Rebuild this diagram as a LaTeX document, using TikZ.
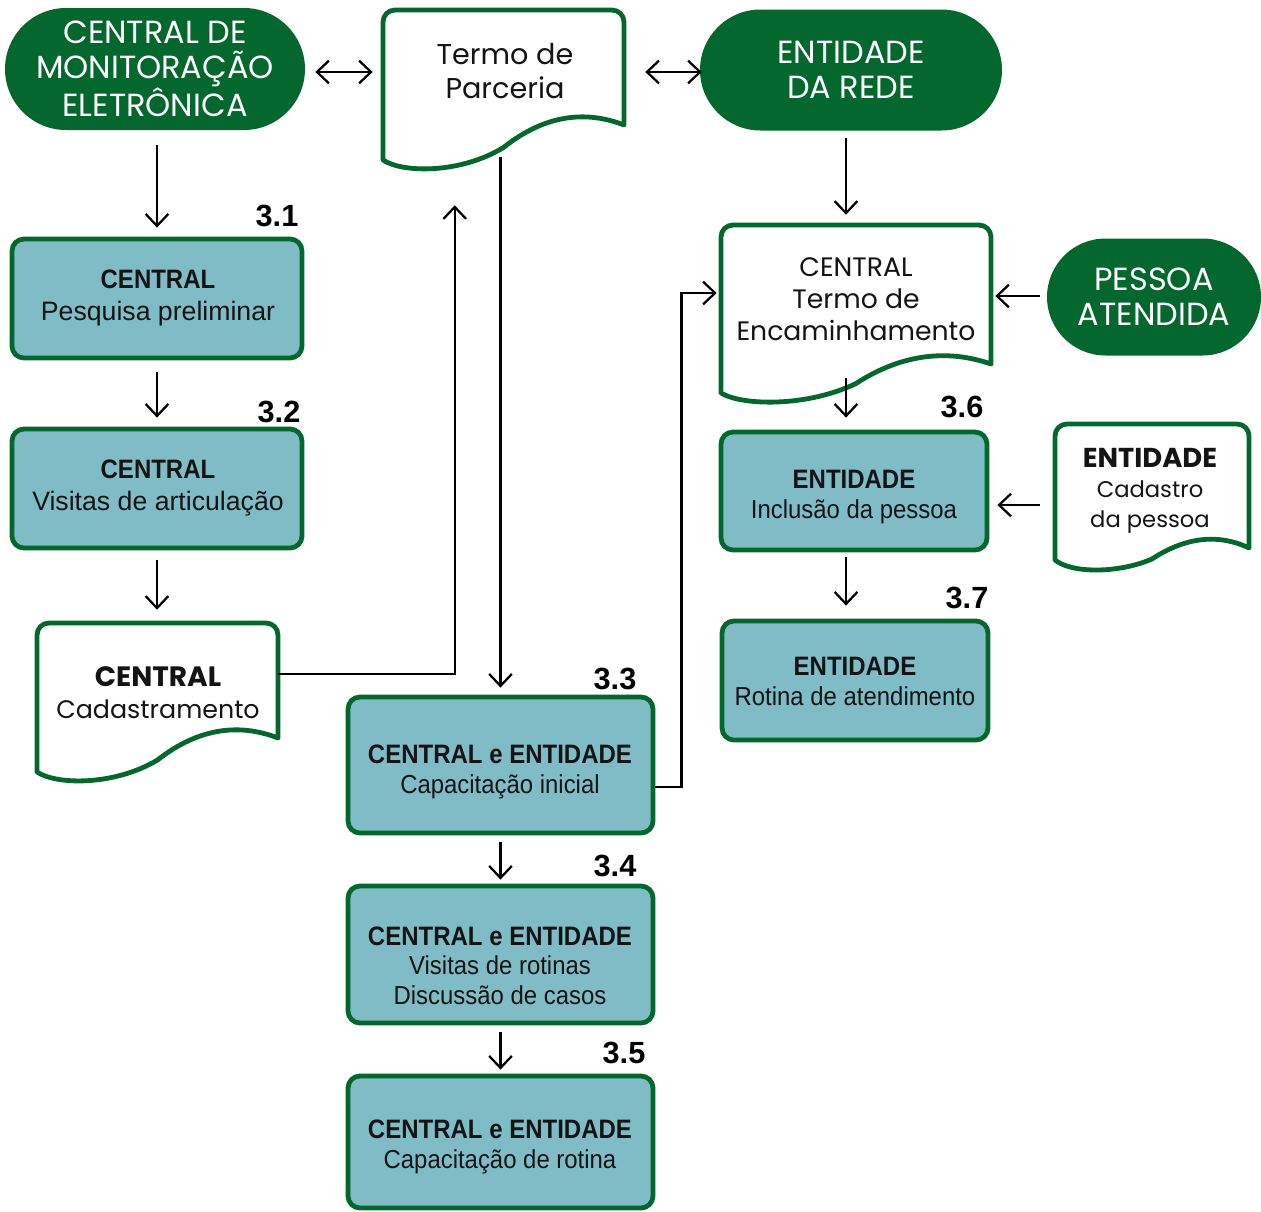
\documentclass[tikz,border=0pt]{standalone}
\usepackage{fontspec}
\setmainfont{Liberation Sans}
\newfontfamily\popfont{Poppins}
\newfontfamily\narrowfont[FakeStretch=0.92]{Liberation Sans}
\newfontfamily\boldnarrow[FakeStretch=0.9]{Liberation Sans}
\usetikzlibrary{arrows.meta,calc,shapes.misc}
\definecolor{dkgreen}{RGB}{4,104,46}
\definecolor{tealfill}{RGB}{128,188,198}
\definecolor{txt}{RGB}{20,20,20}
\newcommand\bt[1]{{\boldnarrow\bfseries\fontsize{20}{20}\selectfont #1}}
\newcommand\pbt[2]{{\fontsize{#1}{#1}\selectfont\bfseries #2}}
\tikzset{
  wh/.style 2 args={minimum width=#1*0.75pt, minimum height=#2*0.75pt},
  term/.style={rounded rectangle, fill=dkgreen, text=white, align=center, inner sep=0pt,
    font=\popfont\fontsize{24}{26}\selectfont},
  stepbox/.style={rectangle, rounded corners=9pt, draw=dkgreen, line width=3.6pt, fill=tealfill, inner sep=0pt},
  boxtext/.style={align=center, inner sep=0pt, text=txt, font=\narrowfont\fontsize{19.5}{22.5}\selectfont},
  bigtext/.style={boxtext, font=\fontsize{20}{24}\selectfont},
  docbound/.style={rectangle, inner sep=0pt},
  doctext/.style={align=center, inner sep=0pt, text=txt},
  docline/.style={draw=dkgreen, line width=3.6pt, fill=white, line join=round},
  num/.style={inner sep=0pt, font=\bfseries\fontsize{23}{23}\selectfont},
  arr/.style={line width=1.7pt, -{Straight Barb[length=9pt,width=17pt]}},
  darr/.style={line width=1.7pt, {Straight Barb[length=9pt,width=17pt]}-{Straight Barb[length=9pt,width=17pt]}},
}
\newcommand\docshape[5]{%
  \pgfmathsetmacro\dw{#3-#1}%
  \pgfmathsetmacro\mx{#1+0.5*\dw}%
  \pgfmathsetmacro\my{#5+0.5*(#4-#5)}%
  \path[docline] (#1,#4-10) -- (#1,#2+12) arc[start angle=180,end angle=90,radius=9pt]
    -- (#3-12,#2) arc[start angle=90,end angle=0,radius=9pt] -- (#3,#5)
    .. controls (#3-0.15*\dw,#5-14) and (#3-0.32*\dw,#5-12) .. (\mx,\my)
    .. controls (#1+0.32*\dw,#4+4) and (#1+0.08*\dw,#4+3) .. (#1,#4-10) -- cycle;
}
\begin{document}
\begin{tikzpicture}[x=0.75pt,y=-0.75pt]
\useasboundingbox (0,0) rectangle (1261,1211);

% terminals
\node[term, wh={300}{122}] (mon) at (155,69) {CENTRAL DE\\MONITORAÇÃO\\ELETRÔNICA};
\node[term, wh={302}{121}] (ent) at (851,70) {ENTIDADE\\DA REDE};
\node[term, wh={214}{117}] (pes) at (1154,297) {PESSOA\\ATENDIDA};

% documents
\docshape{383}{10}{624}{170}{125}
\node[docbound, wh={241}{160}] (tp) at (503.5,90) {};
\node[doctext, font=\popfont\fontsize{21.5}{26}\selectfont] (tpt) at (505,71) {Termo de\\Parceria};

\docshape{37}{623}{278}{782}{738}
\node[docbound, wh={241}{159}] (cad) at (157.5,702.5) {};
\node[doctext, font=\popfont\fontsize{19}{24}\selectfont] (cadt) at (158,693) {\pbt{21}{CENTRAL}\\Cadastramento};

\docshape{721}{225}{991}{403}{364}
\node[docbound, wh={270}{178}] (ten) at (856,314) {};
\node[doctext, font=\popfont\fontsize{20}{24}\selectfont] (tent) at (856,299) {CENTRAL\\Termo de\\Encaminhamento};

\docshape{1055}{424}{1249}{570}{548}
\node[docbound, wh={194}{146}] (cdp) at (1152,497) {};
\node[doctext, font=\popfont\fontsize{17}{22.5}\selectfont] (cdpt) at (1150,491) {\pbt{20.5}{ENTIDADE}\\Cadastro\\da pessoa};

% step boxes
\node[stepbox, wh={290}{119}] (b31) at (157,298.5) {};
\node[bigtext] (b31t) at (158,298) {\bt{CENTRAL}\\Pesquisa preliminar};
\node[stepbox, wh={290}{119}] (b32) at (157,488.5) {};
\node[bigtext] (b32t) at (158,488) {\bt{CENTRAL}\\Visitas de articulação};
\node[stepbox, wh={305}{136}] (b33) at (500.5,765) {};
\node[boxtext] (b33t) at (500,772) {\bt{CENTRAL e ENTIDADE}\\Capacitação inicial};
\node[stepbox, wh={305}{137}] (b34) at (500.5,954.5) {};
\node[boxtext, font=\narrowfont\fontsize{19.5}{22}\selectfont] (b34t) at (500,965.5) {\bt{CENTRAL e ENTIDADE}\\Visitas de rotinas\\Discussão de casos};
\node[stepbox, wh={305}{132}] (b35) at (500.5,1142) {};
\node[boxtext] (b35t) at (500,1147) {\bt{CENTRAL e ENTIDADE}\\Capacitação de rotina};
\node[stepbox, wh={266}{118}] (b36) at (854,491) {};
\node[boxtext] (b36t) at (854,497) {\bt{ENTIDADE}\\Inclusão da pessoa};
\node[stepbox, wh={266}{119}] (b37) at (855,680.5) {};
\node[boxtext] (b37t) at (855,681.5) {\bt{ENTIDADE}\\Rotina de atendimento};

% numbers
\node[num] (n31) at (277,216) {3.1};
\node[num] (n32) at (279,412) {3.2};
\node[num] (n33) at (615,679) {3.3};
\node[num] (n34) at (615,866) {3.4};
\node[num] (n35) at (624,1053) {3.5};
\node[num] (n36) at (962,407) {3.6};
\node[num] (n37) at (967,598) {3.7};

% connectors
\draw[darr] ($(mon.east)+(10,3)$) -- ($(mon.east -| tp.west)+(-10,3)$);
\draw[darr] ($(ent.west -| tp.east)+(21,2)$) -- ($(ent.west)+(2,2)$);
\draw[arr] ($(mon.south)+(2,15)$) -- ($(b31.north)+(0,-9)$);
\draw[arr] ($(b31.south)+(0,12)$) -- ($(b32.north)+(0,-9)$);
\draw[arr] ($(b32.south)+(0,10)$) -- ($(b32.south |- cad.north)+(0,-13)$);
\draw[arr] ($(cad.north east)+(0,51)$) -| ($(tp.south west)+(72,35)$);
\draw[arr] ($(b33.north |- tp.south)+(0,-13)$) -- ($(b33.north)+(0,-7)$);
\draw[arr] ($(b33.east)+(0,22)$) -- ++(26,0) |- ($(ten.west)+(-4,-21)$);
\draw[arr] ($(b33.south)+(0,7)$) -- ($(b34.north)+(0,-4)$);
\draw[arr] ($(b34.south)+(0,7)$) -- ($(b35.north)+(0,-4)$);
\draw[arr] ($(ent.south)+(-5,7)$) -- ($(ent.south |- ten.north)+(-5,-10)$);
\draw[arr] ($(pes.west)+(-7,-1)$) -- ($(ten.east |- pes.west)+(4,-1)$);
\draw[arr] ($(b36.north |- ten.south)+(-8,-25)$) -- ($(b36.north)+(-8,-12)$);
\draw[arr] ($(cdp.west |- b36.east)+(-15,14)$) -- ($(b36.east)+(8,14)$);
\draw[arr] ($(b36.south)+(-8,5)$) -- ($(b37.north)+(-9,-13)$);
\end{tikzpicture}
\end{document}
